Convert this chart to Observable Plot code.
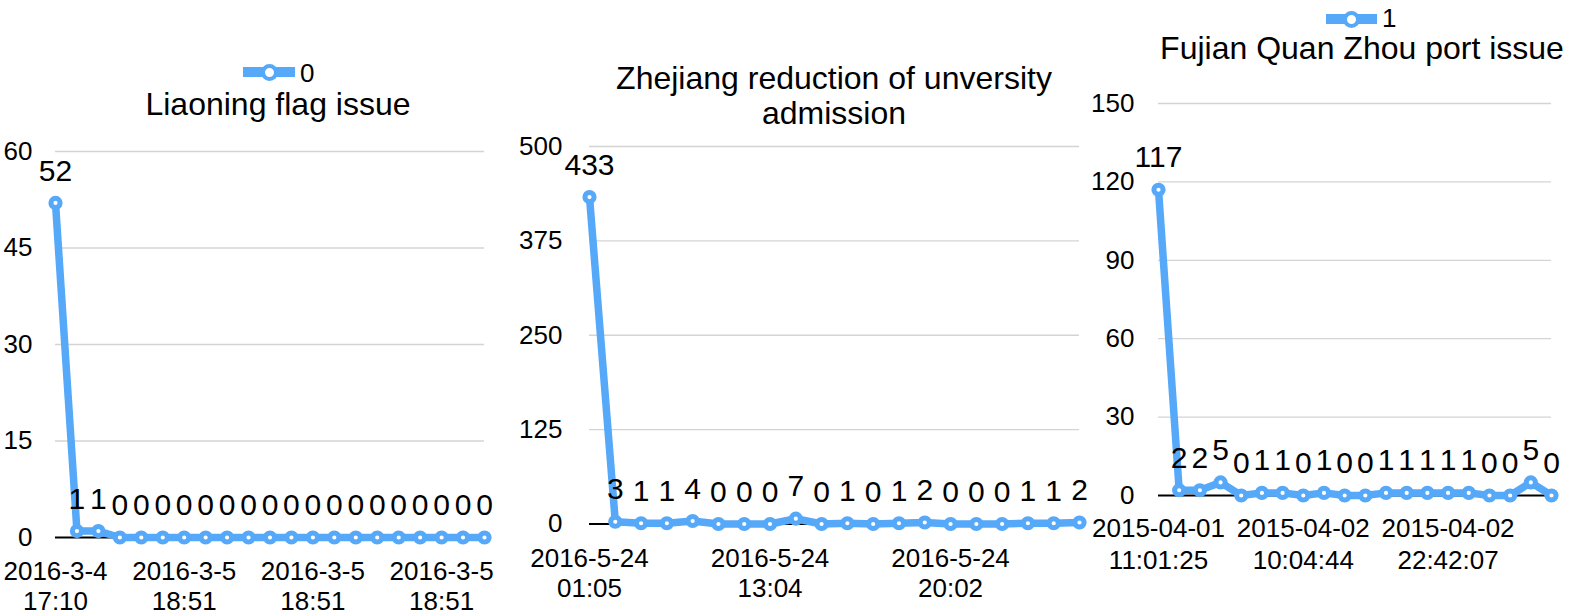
<!DOCTYPE html>
<html>
<head>
<meta charset="utf-8">
<script src="https://cdn.jsdelivr.net/npm/d3@7"></script>
<script src="https://cdn.jsdelivr.net/npm/@observablehq/plot@0.6"></script>
<style>
  html, body { margin: 0; padding: 0; background: #fff; }
  #root { position: relative; width: 1580px; height: 615px; overflow: hidden; font-family: "Liberation Sans", Arial, sans-serif; color: #000; }
  .title { position: absolute; width: 700px; text-align: center; font-size: 32px; line-height: 35px; white-space: nowrap; }
  .legend { position: absolute; height: 30px; }
  .legend .bar { position: absolute; height: 10px; background: #56a8f8; }
  .legend .mk { position: absolute; width: 9px; height: 9px; border: 4px solid #56a8f8; border-radius: 50%; background: #fff; }
  .legend .lbl { position: absolute; font-size: 26px; line-height: 26px; white-space: nowrap; }
</style>
</head>
<body>
<div id="root"></div>
<script>
// ---------- data ----------
const liaoningTitle = "Liaoning flag issue";
const liaoningSeries = "0";
const liaoningValues = [52, 1, 1, 0, 0, 0, 0, 0, 0, 0, 0, 0, 0, 0, 0, 0, 0, 0, 0, 0, 0];
const liaoningTickLabels = ["2016-3-4\n17:10", "2016-3-5\n18:51", "2016-3-5\n18:51", "2016-3-5\n18:51"];

const zhejiangTitle = ["Zhejiang reduction of unversity", "admission"];
const zhejiangValues = [433, 3, 1, 1, 4, 0, 0, 0, 7, 0, 1, 0, 1, 2, 0, 0, 0, 1, 1, 2];
const zhejiangTickLabels = ["2016-5-24\n01:05", "2016-5-24\n13:04", "2016-5-24\n20:02"];

const fujianTitle = "Fujian Quan Zhou port issue";
const fujianSeries = "1";
const fujianValues = [117, 2, 2, 5, 0, 1, 1, 0, 1, 0, 0, 1, 1, 1, 1, 1, 0, 0, 5, 0];
const fujianTickLabels = ["2015-04-01\n11:01:25", "2015-04-02\n10:04:44", "2015-04-02\n22:42:07"];

// ---------- drawing ----------
const BLUE = "#56a8f8";
const FONT = "Liberation Sans, Arial, sans-serif";
const root = document.getElementById("root");

function panel(cfg) {
  const data = cfg.values.map((v, i) => ({i, v}));
  const tickIdx = cfg.tickLabels.map((_, k) => k * cfg.tickEvery);
  const yTicks = d3.range(0, cfg.yMax + 1e-9, cfg.yStep);
  const svg = Plot.plot({
    width: cfg.width,
    height: 615,
    marginLeft: cfg.ml, marginRight: cfg.mr, marginTop: cfg.mt, marginBottom: cfg.mb,
    style: {fontFamily: FONT, background: "transparent", overflow: "visible", maxWidth: "none", color: "#000"},
    x: {domain: [0, cfg.values.length - 1], axis: null},
    y: {domain: [0, cfg.yMax], axis: null},
    marks: [
      Plot.gridY(yTicks.filter(d => d > 0), {stroke: "#d4d4d4", strokeOpacity: 1, strokeWidth: 1.3}),
      Plot.ruleY([0], {stroke: "#000", strokeWidth: 2}),
      Plot.axisY(yTicks, {label: null, tickSize: 0, tickPadding: cfg.yPad, fontSize: 26, fill: "#000", tickFormat: d => String(d)}),
      Plot.axisX(tickIdx, {label: null, tickSize: 0, tickPadding: cfg.xPad, fontSize: 26, fill: "#000", lineHeight: cfg.lh,
        tickFormat: d => cfg.tickLabels[tickIdx.indexOf(d)]}),
      Plot.line(data, {x: "i", y: "v", stroke: BLUE, strokeWidth: 7.5, strokeLinejoin: "round"}),
      Plot.dot(data, {x: "i", y: "v", r: 4.6, fill: "#fff", stroke: BLUE, strokeWidth: 5}),
      Plot.text(data, {x: "i", y: "v", text: d => String(d.v), dy: -32, fontSize: 30, fill: "#000"})
    ]
  });
  svg.style.position = "absolute";
  svg.style.left = cfg.left + "px";
  svg.style.top = "0px";
  root.appendChild(svg);
}

function title(lines, cx, firstBaseline) {
  const d = document.createElement("div");
  d.className = "title";
  d.style.left = (cx - 350) + "px";
  d.style.top = (firstBaseline - 28.6) + "px";
  lines.forEach((t, k) => { if (k) d.appendChild(document.createElement("br")); d.appendChild(document.createTextNode(t)); });
  root.appendChild(d);
}

function legend(name, x0, x1, cy, textBaseline) {
  const bar = document.createElement("div");
  bar.className = "legend";
  bar.style.left = "0px"; bar.style.top = "0px";
  const b = document.createElement("div");
  b.className = "bar";
  b.style.left = x0 + "px"; b.style.width = (x1 - x0) + "px"; b.style.top = (cy - 5) + "px";
  const m = document.createElement("div");
  m.className = "mk";
  const mc = (x0 + x1) / 2;
  m.style.left = (mc - 8.5) + "px"; m.style.top = (cy - 8.5) + "px";
  const l = document.createElement("div");
  l.className = "lbl";
  l.textContent = name;
  l.style.left = (x1 + 5) + "px"; l.style.top = (textBaseline - 22) + "px";
  bar.append(b, m, l);
  root.appendChild(bar);
}

panel({values: liaoningValues, tickLabels: liaoningTickLabels, tickEvery: 6, yMax: 60, yStep: 15,
  left: 0, width: 520, ml: 55, mr: 36, mt: 151, mb: 78, yPad: 23, xPad: 21.5, lh: 1.15});
panel({values: zhejiangValues, tickLabels: zhejiangTickLabels, tickEvery: 7, yMax: 500, yStep: 125,
  left: 500, width: 590, ml: 89, mr: 11, mt: 146, mb: 91.5, yPad: 27, xPad: 22, lh: 1.15});
panel({values: fujianValues, tickLabels: fujianTickLabels, tickEvery: 7, yMax: 150, yStep: 30,
  left: 1085, width: 495, ml: 73, mr: 29, mt: 103, mb: 120, yPad: 24, xPad: 19, lh: 1.23});

title([liaoningTitle], 278, 116);
title(zhejiangTitle, 834, 90);
title([fujianTitle], 1362, 60);
legend(liaoningSeries, 243, 295, 72, 82);
legend(fujianSeries, 1326, 1377, 19, 27);
</script>
</body>
</html>
